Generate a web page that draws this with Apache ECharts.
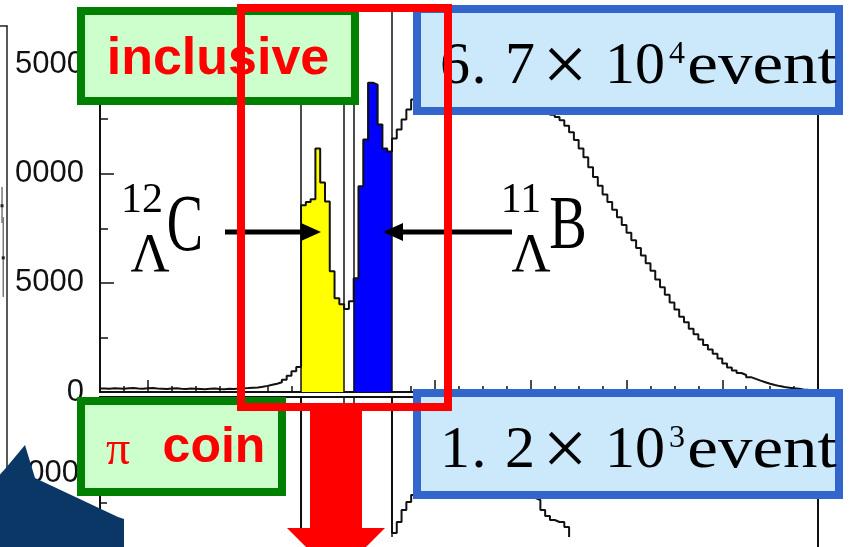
<!DOCTYPE html>
<html>
<head>
<meta charset="utf-8">
<script src="https://cdn.jsdelivr.net/npm/echarts@6/dist/echarts.min.js"></script>
<style>
  html, body { margin: 0; padding: 0; background: #fff; }
  #chart { width: 852px; height: 547px; }
</style>
</head>
<body>
<div id="chart"></div>
<script>
// Missing-mass spectrum, bins of 0.2 starting at 0
const BIN_START = 0;
const BIN_WIDTH = 0.2;

// inclusive spectrum (counts per bin)
const inclusiveCounts = [
  160, 150, 170, 160, 150, 170, 180, 160, 150, 170,
  180, 160, 150, 140, 160, 170, 150, 140, 160, 150,
  140, 130, 150, 160, 140, 130, 150, 140, 160, 170,
  180, 200, 210, 240, 280, 330, 380, 450, 560, 740,
  950, 1150, 8550, 8700, 8825, 11160, 9600, 8730, 5530, 4300,
  4020, 3800, 4160, 5210, 9420, 11570, 14170, 14080, 12250, 11160,
  11020, 11610, 12030, 12480, 12940, 13400, 13800, 14150, 14450, 14700,
  14900, 15050, 15150, 15200, 15220, 15200, 15150, 15080, 15000, 14900,
  14780, 14650, 14500, 14350, 14200, 14050, 13900, 13750, 13600, 13450,
  13300, 13150, 13000, 12850, 12700, 12600, 12450, 12200, 11900, 11550,
  11150, 10750, 10300, 9850, 9450, 9050, 8700, 8350, 8000, 7650,
  7300, 6950, 6600, 6250, 5900, 5550, 5150, 4800, 4450, 4100,
  3780, 3450, 3200, 2900, 2650, 2400, 2150, 1950, 1750, 1530,
  1300, 1120, 980, 870, 780, 680, 600, 520, 450, 380,
  320, 270, 230, 200, 170, 150, 120, 100, 90, 80
];

// pi-coincidence spectrum (counts per bin)
const coinCounts = [
  90, 100, 80, 110, 90, 100, 120, 90, 100, 110,
  100, 90, 120, 110, 100, 90, 110, 120, 100, 110,
  120, 110, 130, 120, 110, 130, 140, 120, 130, 150,
  140, 160, 170, 180, 200, 210, 230, 250, 270, 290,
  310, 330, 2600, 3400, 3900, 4200, 3800, 3300, 2700, 2300,
  2100, 2000, 2100, 2500, 3500, 4300, 4800, 4600, 4100, 3700,
  3400, 400, 510, 630, 710, 780, 830, 870, 900, 930,
  950, 960, 970, 970, 960, 950, 940, 920, 900, 880,
  860, 840, 820, 800, 790, 780, 770, 760, 760, 750,
  750, 730, 630, 570, 530, 510, 510, 460, 280, 250,
  230, 220, 210, 200, 190, 180, 170, 160, 150, 140,
  130, 120, 110, 100, 95, 90, 85, 80, 75, 70,
  65, 60, 55, 50, 48, 46, 44, 42, 40, 38,
  36, 34, 32, 30, 28, 26, 24, 22, 20, 20,
  18, 18, 16, 16, 14, 14, 12, 12, 10, 10
];

// filled peak windows (bin index ranges, inclusive)
const yellowBins = [42, 50];   // 12-Lambda-C
const blueBins = [53, 60];     // 11-Lambda-B
// window edges drawn as vertical cut lines
const cutEdges = [8.4, 10.2, 10.6, 12.2];
// long ticks on the energy axis
const xMajorTicks = [2, 6, 10, 14, 18, 22, 26, 30];
// neighbouring panel: [x, y, low, high]
const sidePoints = [
  [97.6, 65.5, 62.2, 69.1],
  [98.2, 55.5, 48.0, 63.3]
];

function edge(i) { return +(BIN_START + i * BIN_WIDTH).toFixed(3); }
function stepData(counts, from, to) {
  const pts = [];
  for (let i = from; i <= to; i++) pts.push([edge(i), counts[i]]);
  pts.push([edge(to + 1), counts[to]]);
  return pts;
}

const ink = '#111';
const axisLine = { show: true, onZero: false, lineStyle: { color: ink, width: 2 } };
const tickStyle = { color: ink, width: 1.5 };
const plainNumber = v => String(v);
const cutMarks = {
  symbol: ['none', 'none'], silent: true, label: { show: false },
  lineStyle: { color: ink, width: 1.5, type: 'solid' },
  emphasis: { disabled: true },
  data: cutEdges.map(v => ({ xAxis: v }))
};

const serif = 'Liberation Serif';
const sans = 'Liberation Sans';
function txt(text, x, y, font, opt) {
  opt = opt || {};
  return {
    type: 'text', x: x, y: y, z: opt.z || 56, silent: true,
    scaleX: opt.sx || 1,
    style: { text: text, fill: opt.fill || '#000', font: font, textAlign: 'center', textVerticalAlign: 'middle' }
  };
}
function eventLabel(mant1, mant2, expo, dy) {
  return [
    txt(mant1, 455, 67 + dy, '60px ' + serif),
    txt('.', 479, 67 + dy, '60px ' + serif),
    txt(mant2, 520, 67 + dy, '60px ' + serif),
    txt('\u00d7', 565, 70 + dy, '80px ' + serif),
    txt('10', 635, 67 + dy, '60px ' + serif),
    txt(expo, 677, 55 + dy, '32px ' + serif),
    txt('event', 762, 67 + dy, '60px ' + serif, { sx: 1.15 })
  ];
}

const graphics = [
  { type: 'rect', z: 40, silent: true, shape: { x: 0, y: 0, width: 16, height: 547 }, style: { fill: '#fff' } },
  { type: 'rect', z: 40, silent: true, shape: { x: 86, y: 537, width: 726, height: 12 }, style: { fill: '#fff' } },
  // arrows pointing at the two peaks
  { type: 'line', z: 50, shape: { x1: 225, y1: 232, x2: 306, y2: 232 }, style: { stroke: '#000', lineWidth: 5 } },
  { type: 'polygon', z: 50, shape: { points: [[301, 223], [321, 232], [301, 241]] }, style: { fill: '#000' } },
  { type: 'line', z: 50, shape: { x1: 398, y1: 232, x2: 512, y2: 232 }, style: { stroke: '#000', lineWidth: 5 } },
  { type: 'polygon', z: 50, shape: { points: [[403, 223], [383, 232], [403, 241]] }, style: { fill: '#000' } },
  txt('12', 142, 201, '42px ' + serif, { z: 50 }),
  txt('\u039b', 150, 257, '54px ' + serif, { z: 50 }),
  txt('C', 185, 229, '80px ' + serif, { z: 50, sx: 0.68 }),
  txt('11', 521, 201, '42px ' + serif, { z: 50 }),
  txt('\u039b', 531, 257, '54px ' + serif, { z: 50 }),
  txt('B', 568, 228, '76px ' + serif, { z: 50, sx: 0.74 }),
  // navy arrow at the lower left
  { type: 'polygon', z: 52, shape: { points: [[-5, 480], [5, 469], [25, 445], [35, 478], [118, 517], [124, 519], [124, 560], [-5, 560]] }, style: { fill: '#0b3766' } },
  // selection labels
  { type: 'rect', z: 55, shape: { x: 81, y: 11, width: 274, height: 90 }, style: { fill: '#ccffcc', stroke: '#008000', lineWidth: 8 } },
  txt('inclusive', 218, 60, 'bold 52px ' + sans, { fill: '#ff0000' }),
  { type: 'rect', z: 55, shape: { x: 81, y: 401, width: 201, height: 91 }, style: { fill: '#ccffcc', stroke: '#008000', lineWidth: 8 } },
  txt('\u03c0', 118, 451, '48px ' + serif, { fill: '#ff0000' }),
  txt('coin', 214, 448.5, 'bold 50px ' + sans, { fill: '#ff0000' }),
  { type: 'rect', z: 55, shape: { x: 417, y: 9, width: 422, height: 102 }, style: { fill: '#cce9fc', stroke: '#3366cc', lineWidth: 8 } },
  { type: 'rect', z: 55, shape: { x: 417, y: 393, width: 422, height: 102 }, style: { fill: '#cce9fc', stroke: '#3366cc', lineWidth: 8 } }
].concat(eventLabel('6', '7', '4', 0), eventLabel('1', '2', '3', 384), [
  // selected region and the arrow to the coincidence spectrum
  { type: 'rect', z: 70, shape: { x: 241, y: 8, width: 207, height: 399 }, style: { fill: 'none', stroke: '#ff0000', lineWidth: 8 } },
  { type: 'polygon', z: 70, shape: { points: [[310, 411], [362, 411], [362, 528], [385, 528], [336, 577], [287, 528], [310, 528]] }, style: { fill: '#ff0000' } }
]);

const chart = echarts.init(document.getElementById('chart'), null, { renderer: 'canvas' });
chart.setOption({
  animation: false,
  backgroundColor: '#fff',
  grid: [
    { left: 100, right: 34, top: 10, height: 382, containLabel: false, outerBoundsMode: 'none' },
    { left: 100, right: 34, top: 397, height: 176, containLabel: false, outerBoundsMode: 'none' },
    { left: -200, width: 207, top: 26, height: 521, containLabel: false, outerBoundsMode: 'none' }
  ],
  xAxis: [
    { gridIndex: 0, type: 'value', min: 0, max: 30, position: 'bottom', axisLine: axisLine,
      axisTick: { show: true, inside: true, length: 12, customValues: xMajorTicks, lineStyle: tickStyle },
      axisLabel: { show: false }, splitLine: { show: false } },
    { gridIndex: 0, type: 'value', min: 0, max: 30, interval: 1, position: 'bottom', axisLine: { show: false, onZero: false },
      axisTick: { show: true, inside: true, length: 6, lineStyle: tickStyle },
      axisLabel: { show: false }, splitLine: { show: false } },
    { gridIndex: 1, type: 'value', min: 0, max: 30, position: 'top', axisLine: axisLine,
      axisTick: { show: false }, axisLabel: { show: false }, splitLine: { show: false } },
    { gridIndex: 2, type: 'value', min: 0, max: 100, position: 'top', z: 45,
      axisLine: { show: true, onZero: false, lineStyle: { color: '#222', width: 1.5 } },
      axisTick: { show: false }, axisLabel: { show: false }, splitLine: { show: false } }
  ],
  yAxis: [
    { gridIndex: 0, type: 'value', min: 0, max: 17500, interval: 5000, position: 'left', axisLine: axisLine,
      axisTick: { show: true, inside: true, length: 14, lineStyle: tickStyle },
      minorTick: { show: true, splitNumber: 2, length: 8, lineStyle: tickStyle },
      axisLabel: { show: true, margin: 16, fontSize: 31, fontFamily: sans, color: ink, showMaxLabel: false, formatter: plainNumber },
      splitLine: { show: false } },
    { gridIndex: 0, type: 'value', min: 0, max: 17500, position: 'right', axisLine: axisLine,
      axisTick: { show: false }, axisLabel: { show: false }, splitLine: { show: false } },
    { gridIndex: 1, type: 'value', min: 0, max: 1760, interval: 1000, position: 'left', axisLine: axisLine,
      axisTick: { show: true, inside: true, length: 14, lineStyle: tickStyle },
      minorTick: { show: true, splitNumber: 10, length: 7, lineStyle: tickStyle },
      axisLabel: { show: true, margin: 21, fontSize: 31, fontFamily: sans, color: ink, showMaxLabel: false, formatter: plainNumber },
      splitLine: { show: false } },
    { gridIndex: 1, type: 'value', min: 0, max: 1760, position: 'right', axisLine: axisLine,
      axisTick: { show: false }, axisLabel: { show: false }, splitLine: { show: false } },
    { gridIndex: 2, type: 'value', min: 0, max: 100, position: 'right', z: 45,
      axisLine: { show: true, onZero: false, lineStyle: { color: '#222', width: 1.5 } },
      axisTick: { show: false }, axisLabel: { show: false }, splitLine: { show: false } }
  ],
  series: [
    { type: 'line', name: '12C', xAxisIndex: 0, yAxisIndex: 0, step: 'end', symbol: 'none', silent: true, z: 2,
      data: stepData(inclusiveCounts, yellowBins[0], yellowBins[1]),
      lineStyle: { width: 0 }, areaStyle: { color: '#ffff00', opacity: 1 } },
    { type: 'line', name: '11B', xAxisIndex: 0, yAxisIndex: 0, step: 'end', symbol: 'none', silent: true, z: 2,
      data: stepData(inclusiveCounts, blueBins[0], blueBins[1]),
      lineStyle: { width: 0 }, areaStyle: { color: '#0000ff', opacity: 1 } },
    { type: 'line', name: 'inclusive', xAxisIndex: 0, yAxisIndex: 0, step: 'end', symbol: 'none', silent: true, z: 3,
      data: stepData(inclusiveCounts, 0, inclusiveCounts.length - 1),
      lineStyle: { color: ink, width: 2 }, markLine: cutMarks },
    { type: 'line', name: 'pi coin', xAxisIndex: 2, yAxisIndex: 2, step: 'end', symbol: 'none', silent: true, z: 3, clip: true,
      data: stepData(coinCounts, 0, coinCounts.length - 1),
      lineStyle: { color: ink, width: 2 }, markLine: cutMarks },
    { type: 'custom', name: 'side', xAxisIndex: 3, yAxisIndex: 4, silent: true, z: 45,
      data: sidePoints,
      renderItem: function (params, api) {
        const p = api.coord([api.value(0), api.value(1)]);
        const a = api.coord([api.value(0), api.value(2)]);
        const b = api.coord([api.value(0), api.value(3)]);
        return { type: 'group', children: [
          { type: 'line', shape: { x1: a[0], y1: a[1], x2: b[0], y2: b[1] }, style: { stroke: '#777', lineWidth: 1.5 } },
          { type: 'rect', shape: { x: p[0] - 1.5, y: p[1] - 1.5, width: 3, height: 3 }, style: { fill: '#222' } }
        ] };
      } }
  ],
  graphic: { elements: graphics }
});
</script>
</body>
</html>
